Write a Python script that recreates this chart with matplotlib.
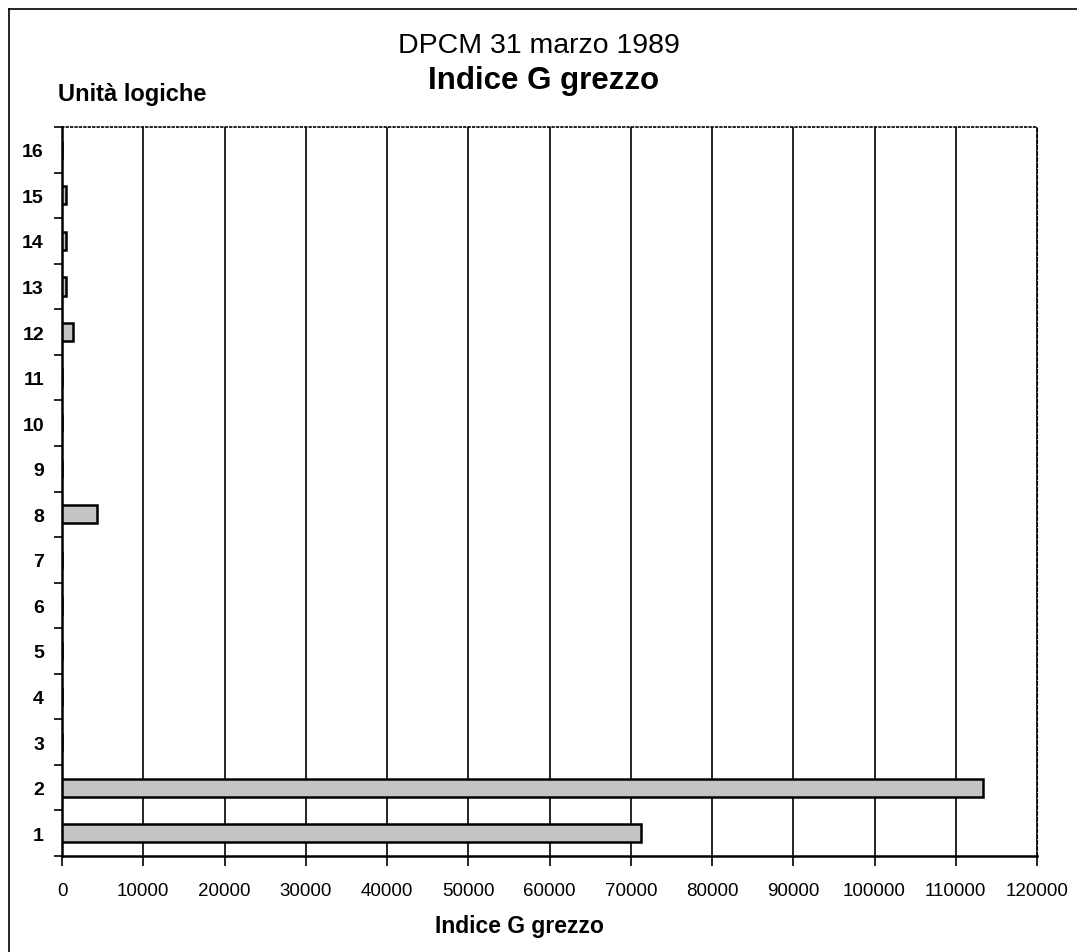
import matplotlib.pyplot as plt
from matplotlib.lines import Line2D
from matplotlib.ticker import MultipleLocator

plt.rcParams['font.family'] = ['Liberation Sans', 'DejaVu Sans']

# unita logiche e valori dell'indice G grezzo
unita = list(range(1, 17))
indice_g = [71300, 113400, 0, 0, 0, 0, 0, 4300, 0, 0, 0, 1300, 480, 450, 450, 0]
x_ticks = list(range(0, 120001, 10000))

fig = plt.figure(figsize=(10.77, 9.53), dpi=100)
ax = fig.add_axes([0.0576, 0.1007, 0.9053, 0.765])

ax.barh(unita, indice_g, height=0.4, color='#c4c4c4', edgecolor='black',
        linewidth=1.8, zorder=3)

ax.set_xlim(0, 120000)
ax.set_ylim(0.5, 16.5)
ax.set_xticks(x_ticks)
ax.set_xticklabels([str(v) for v in x_ticks], fontsize=13.5)
ax.set_yticks(unita)
ax.set_yticklabels([str(u) for u in unita], fontsize=14, fontweight='bold')
ax.yaxis.set_minor_locator(MultipleLocator(1, offset=0.5))
ax.tick_params(axis='y', which='major', length=0, pad=13)
ax.tick_params(axis='y', which='minor', length=6, width=1.2, direction='out')
ax.tick_params(axis='x', which='major', length=7, width=1.2, direction='out', pad=12)

ax.grid(axis='x', color='black', linewidth=1.2, zorder=0)

ax.spines['left'].set_linewidth(1.8)
ax.spines['bottom'].set_linewidth(1.8)
ax.spines['top'].set_linestyle(':')
ax.spines['top'].set_linewidth(1.2)
ax.spines['right'].set_linestyle('--')
ax.spines['right'].set_linewidth(0.8)

fig.text(0.3695, 0.9444, 'DPCM 31 marzo 1989', ha='left', va='baseline', fontsize=20.5)
fig.text(0.397, 0.907, 'Indice G grezzo', ha='left', va='baseline', fontsize=22.5,
         fontweight='bold')
fig.text(0.054, 0.894, 'Unità logiche', ha='left', va='baseline', fontsize=17,
         fontweight='bold')
ax.set_xlabel('Indice G grezzo', fontsize=16.5, fontweight='bold')
ax.xaxis.set_label_coords(0.469, -0.08)

# cornice della pagina
fig.add_artist(Line2D([0.0084, 0.0084], [0.0, 0.9895], color='black', linewidth=1.2))
fig.add_artist(Line2D([0.0084, 1.0], [0.9895, 0.9895], color='black', linewidth=1.2))

fig.savefig('out.png', dpi=100)
